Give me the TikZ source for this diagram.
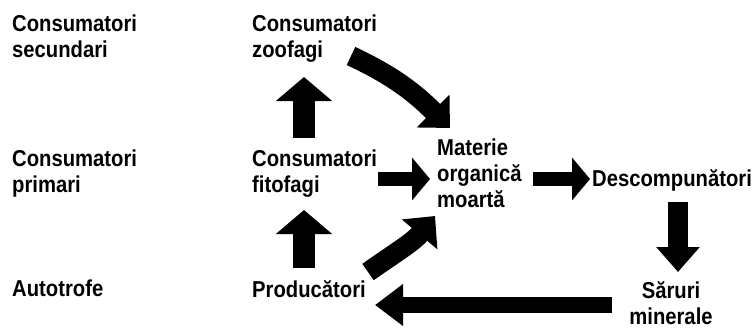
\documentclass[tikz,border=0pt]{standalone}
\usepackage{fontspec}
\setmainfont{Liberation Sans}[FakeStretch=0.88]
\usepackage{tikz}
\usetikzlibrary{arrows.meta, positioning, calc}

\begin{document}
\begin{tikzpicture}[
    x=1pt, y=1pt,
    every node/.style={font=\bfseries\fontsize{23}{26}\selectfont},
    term/.style={
        inner sep=0pt,
        anchor=north west,
        align=left
    },
    uparrow/.style={
        line width=22pt,
        -{Triangle[length=24pt,width=55pt]}
    },
    sidearrow/.style={
        line width=14pt,
        -{Triangle[length=18pt,width=42pt]}
    },
    downarrow/.style={
        line width=20pt,
        -{Triangle[length=25pt,width=42pt]}
    },
    longarrow/.style={
        line width=16pt,
        -{Triangle[length=28pt,width=40pt]}
    },
    bentarrow/.style={
        line width=20pt,
        -{Triangle[length=24pt,width=45pt]}
    }
]
\useasboundingbox (0,0) rectangle (754,-329);

% Level names
\node[term] (sec) at (12,-15) {Consumatori\\secundari};
\node[term] (prim) at (12,-150) {Consumatori\\primari};
\node[term] (auto) at (12,-280) {Autotrofe};

% Food chain
\node[term] (zoo) at (252,-15) {Consumatori\\zoofagi};
\node[term] (fito) at (252,-150) {Consumatori\\fitofagi};
\node[term] (prod) at (252,-280) {Producători};

% Decomposition
\node[term] (mat) at (437,-139) {Materie\\organică\\moartă};
\node[term] (desc) at (592,-169) {Descompunători};
\node[term, anchor=north, align=center] (sar) at (671,-281) {Săruri\\minerale};

% Arrows
\draw[uparrow] ([shift={(52,12)}]fito.north west) -- ([shift={(52,-62)}]zoo.north west);
\draw[uparrow] ([shift={(52,12)}]prod.north west) -- ([shift={(52,-60)}]fito.north west);
\draw[sidearrow] ([shift={(126,-29)}]fito.north west) -- ([shift={(-7,-40)}]mat.north west);
\draw[sidearrow] ([shift={(96,-40)}]mat.north west) -- ([shift={(-2,-10)}]desc.north west);
\draw[downarrow] ([shift={(86,-33)}]desc.north west) -- ([shift={(7,9)}]sar.north);
\draw[longarrow] ([shift={(-59,-24)}]sar.north) -- ([shift={(123,-25)}]prod.north west);
\draw[bentarrow] ([shift={(99,-41)}]zoo.north west) to[out=-25, in=135] ([shift={(13,11)}]mat.north west);
\draw[bentarrow] ([shift={(116,8)}]prod.north west) to[out=35, in=-130] ([shift={(-2,-77)}]mat.north west);

\end{tikzpicture}
\end{document}
